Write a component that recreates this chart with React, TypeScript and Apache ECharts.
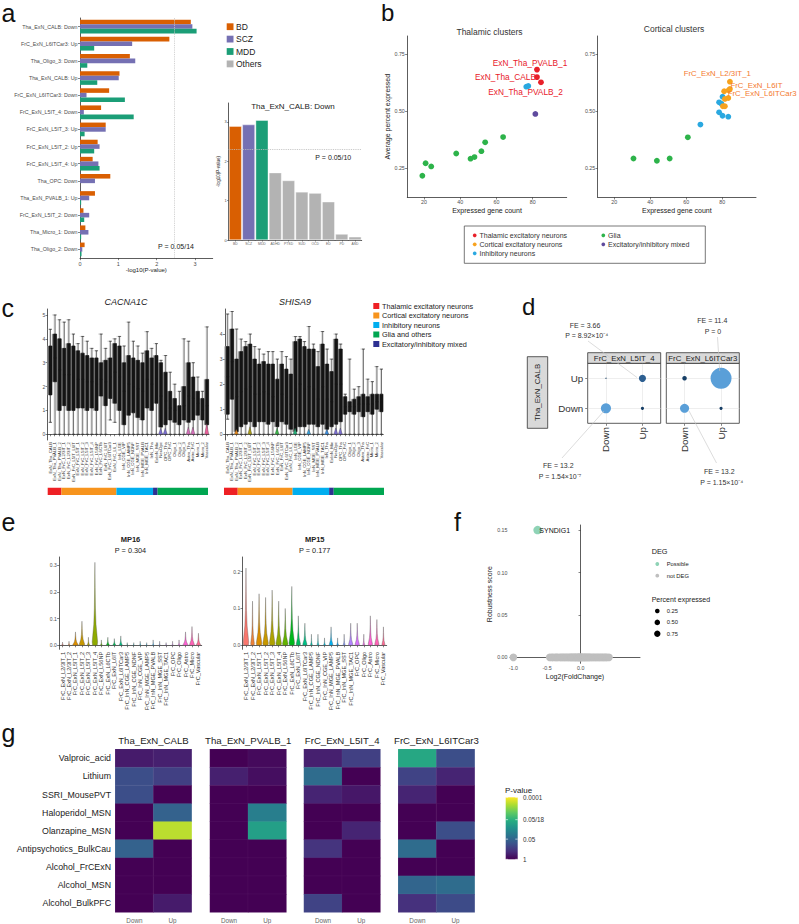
import React, { useEffect, useRef } from 'react';
import * as echarts from 'echarts';

const FF = '"Liberation Sans", Arial, Helvetica, sans-serif';

// ================= Panel a =================
const aCats = ['Tha_ExN_CALB: Down', 'FrC_ExN_L6ITCar3: Up', 'Tha_Oligo_3: Down', 'Tha_ExN_CALB: Up', 'FrC_ExN_L6ITCar3: Down', 'FrC_ExN_L5IT_4: Down', 'FrC_ExN_L5IT_3: Up', 'FrC_ExN_L5IT_2: Up', 'FrC_ExN_L5IT_4: Up', 'Tha_OPC: Down', 'Tha_ExN_PVALB_1: Up', 'FrC_ExN_L5IT_2: Down', 'Tha_Micro_1: Down', 'Tha_Oligo_2: Down'];
const aBD = [2.89, 2.33, 1.30, 1.03, 0.76, 0.55, 0.67, 0.46, 0.33, 0.79, 0.39, 0.09, 0.14, 0.12];
const aSCZ = [2.93, 1.36, 1.44, 1.01, 0.17, 0.10, 0.67, 0.51, 0.48, 0.39, 0.24, 0.24, 0.22, 0.06];
const aMDD = [3.04, 0.37, 0.19, 0.45, 1.17, 1.40, 0.12, 0.37, 0.51, 0.0, 0.03, 0.11, 0.03, 0.04];
const aThresholdP = 0.05 / 14;
const aThresholdLabel = 'P = 0.05/14';
const legendA = ['BD', 'SCZ', 'MDD', 'Others'];
const insetTitle = 'Tha_ExN_CALB: Down';
const insetCats = ['BD', 'SCZ', 'MDD', 'ADHD', 'PTSD', 'SUD', 'OCD', 'ED', 'PD', 'ASD'];
const insetVals = [2.89, 2.93, 3.04, 1.71, 1.51, 1.22, 1.19, 0.97, 0.15, 0.08];
const insetThresholdP = 0.05 / 10;
const insetThresholdLabel = 'P = 0.05/10';

// ================= Panel b =================
const thalExc = [[82.4, 0.682], [82.4, 0.649], [84.6, 0.626]];
const thalExcNames = ['ExN_Tha_PVALB_1', 'ExN_Tha_CALB', 'ExN_Tha_PVALB_2'];
const thalInh = [[76.5, 0.607], [77.6, 0.610]];
const thalMixed = [[81.5, 0.487]];
const thalGlia = [[19.1, 0.215], [20.9, 0.270], [24.0, 0.256], [37.8, 0.313], [45.7, 0.290], [47.9, 0.297], [51.7, 0.323], [53.8, 0.362], [63.7, 0.385]];
const cortGlia = [[30.7, 0.291], [43.7, 0.281], [50.8, 0.291], [60.9, 0.384]];
const cortInh = [[67.9, 0.440], [78.3, 0.494], [80.2, 0.479], [83.4, 0.475], [78.3, 0.538], [79.6, 0.532], [80.2, 0.563]];
const cortExc = [[84.3, 0.629], [84.3, 0.597], [83.6, 0.591], [81.1, 0.587], [81.5, 0.553], [83.4, 0.557], [80.4, 0.521], [81.5, 0.521]];
const cortExcNames = ['FrC_ExN_L2/3IT_1', 'FrC_ExN_L6IT', 'FrC_ExN_L6ITCar3', '', '', '', '', ''];
const bTitles = ['Thalamic clusters', 'Cortical clusters'];
const bLegend = ['Thalamic excitatory neurons', 'Cortical excitatory neurons', 'Inhibitory neurons', 'Glia', 'Excitatory/inhibitory mixed'];

// ================= Panel c =================
const cGenes = ['CACNA1C', 'SHISA9'];
const cCats = ['ExN_Tha_CALB', 'ExN_Tha_PVALB_1', 'ExN_Tha_PVALB_2', 'ExN_FrC_L2/3IT_1', 'ExN_FrC_L2/3IT_2', 'ExN_FrC_L5IT_L6IT', 'ExN_FrC_L5IT_1', 'ExN_FrC_L5IT_2', 'ExN_FrC_L5IT_3', 'ExN_FrC_L5IT_4', 'ExN_FrC_L56NP', 'ExN_FrC_L6CTb', 'ExN_FrC_L6IT', 'ExN_FrC_L6ITCar3', 'ExN_FrC_L6_1', 'InN_LGE', 'InN_CGE_VIP', 'InN_CGE_LAMP5', 'InN_CGE_NDNF', 'InN_MGE_SST', 'InN_MGE_PVALB', 'InN_MGE_TAC1', 'InN_Tha', 'ExInN_Mix', 'NeuOpc', 'OPC_Tha', 'OPC_FrC', 'Oligo_1', 'Oligo_2', 'Oligo_3', 'Astro_Tha', 'Astro_FrC', 'Micro_1', 'Micro_2', 'Vascular'];
const cGroupNames = ['Thalamic excitatory neurons', 'Cortical excitatory neurons', 'Inhibitory neurons', 'Glia and others', 'Excitatory/inhibitory mixed'];
const cGroupCounts = [3, 12, 8, 1, 11]; // red, orange, blue, navy, green (order along axis)
const cacnaBox = [[0.5, 1.65, 2.9, 3.7, 4.4], [0, 2.2, 3.2, 4.2, 5.0], [0, 1.0, 2.7, 4.0, 4.8], [0, 1.2, 2.5, 3.6, 4.7], [0, 1.0, 2.5, 3.8, 4.8], [0, 1.0, 2.4, 3.7, 4.2], [0, 1.1, 2.3, 3.5, 3.8], [0, 1.1, 2.3, 3.4, 4.1], [0, 1.0, 2.2, 3.3, 3.9], [0, 1.1, 2.2, 3.2, 3.6], [0, 1.0, 2.1, 3.2, 3.5], [0, 1.6, 2.3, 3.0, 4.2], [0, 1.2, 2.2, 3.1, 3.6], [0.6, 1.5, 2.4, 3.2, 3.9], [0.5, 1.3, 2.6, 3.8, 4.0], [0, 1.0, 2.4, 3.7, 4.1], [0, 0.4, 1.8, 3.0, 3.7], [0, 0.8, 2.1, 3.3, 4.7], [0, 0.9, 2.0, 3.2, 3.9], [0, 0.7, 1.9, 3.1, 3.7], [0, 0.6, 1.8, 3.0, 3.4], [0, 1.1, 2.3, 3.5, 4.3], [0, 1.0, 2.1, 3.2, 3.6], [0, 1.3, 2.3, 3.3, 3.8], [0, 0.3, 1.6, 3.0, 3.1], [0, 0.4, 1.4, 2.6, 3.3], [0, 0.6, 1.1, 1.8, 2.6], [0, 0.5, 1.0, 1.5, 2.1], [0, 0.4, 0.8, 1.2, 1.8], [0, 0.6, 1.2, 2.0, 4.0], [0, 0.5, 1.6, 3.0, 3.9], [0, 0.6, 1.5, 2.4, 3.0], [0, 0.8, 1.3, 1.8, 2.4], [0, 0.6, 1.0, 1.5, 1.8], [0, 0.4, 1.2, 2.3, 4.5]];
const shisaBox = [[0.6, 0.8, 2.3, 3.5, 4.8], [0, 1.4, 2.9, 4.2, 4.9], [0, 0.1, 1.5, 3.0, 4.2], [0, 0.3, 1.7, 3.3, 3.8], [0, 0.4, 1.8, 3.5, 3.7], [0, 0.5, 1.9, 3.6, 4.0], [0, 0.3, 1.6, 3.0, 3.5], [0, 0.5, 1.6, 2.8, 3.4], [0, 0.5, 1.7, 2.9, 3.2], [0, 0.4, 1.6, 2.8, 3.3], [0, 0.5, 1.5, 2.8, 3.3], [0, 0.3, 1.2, 2.2, 3.0], [0, 0.5, 1.6, 2.8, 3.3], [0, 0.4, 1.5, 2.6, 3.1], [0, 0.2, 1.2, 2.4, 3.0], [0, 0.1, 1.8, 3.7, 3.9], [0, 0.3, 2.0, 3.8, 3.9], [0, 0.3, 1.8, 3.5, 3.7], [0, 0.4, 1.9, 3.4, 4.3], [0, 0.4, 1.8, 3.4, 3.6], [0, 0.3, 1.4, 2.7, 3.3], [0, 0.4, 1.9, 3.6, 4.1], [0, 0.2, 1.4, 2.8, 3.4], [0, 0.3, 1.3, 2.5, 3.0], [0, 0.4, 2.0, 3.8, 4.0], [0, 0.5, 2.0, 3.4, 3.6], [0, 0.8, 1.1, 1.5, 1.6], [0, 0.9, 1.1, 1.3, 3.0], [0, 0.8, 1.1, 1.4, 1.8], [0, 0.9, 1.2, 1.5, 1.9], [0, 0.7, 1.2, 1.6, 3.4], [0, 0.9, 1.2, 1.5, 2.2], [0, 0.8, 1.2, 1.6, 2.1], [0, 1.0, 1.3, 1.6, 2.7], [0, 0.9, 1.3, 1.6, 2.6]];
// small coloured violin bases visible at y = 0: [category index, height]
const cacnaMini = [[24, 0.25], [25, 0.25], [30, 0.3], [31, 0.3], [34, 0.45]];
const shisaMini = [[2, 0.2], [5, 0.3], [11, 0.25], [15, 0.25], [18, 0.2], [22, 0.2], [24, 0.25], [25, 0.25]];

// ================= Panel d =================
const dLevels = ['Down', 'Up'];
const dPanels = ['FrC_ExN_L5IT_4', 'FrC_ExN_L6ITCar3'];
const dRowPanel = 'Tha_ExN_CALB';
// [column level index, row level index, overlapping genes]
const dOverlapL5IT4 = [[0, 0, 10], [1, 0, 1], [0, 1, 0], [1, 1, 5]];
const dOverlapL6ITCar3 = [[0, 0, 8], [1, 0, 1], [0, 1, 2], [1, 1, 43]];
const dAnnot = [['FE = 3.66', 'P = 8.92×10⁻⁴'], ['FE = 11.4', 'P = 0'], ['FE = 13.2', 'P = 1.54×10⁻⁷'], ['FE = 13.2', 'P = 1.15×10⁻⁴']];

// ================= Panel e =================
const eCats = ['FrC_ExN_L2/3IT_1', 'FrC_ExN_L2/3IT_2', 'FrC_ExN_L5IT_1', 'FrC_ExN_L5IT_2', 'FrC_ExN_L5IT_3', 'FrC_ExN_L5IT_4', 'FrC_ExN_L56NP', 'FrC_ExN_L6CTb', 'FrC_ExN_L6IT', 'FrC_ExN_L6ITCar3', 'FrC_InN_CGE_LAMP5', 'FrC_InN_CGE_NDNF', 'FrC_InN_CGE_VIP', 'FrC_InN_MGE_LAMP5', 'FrC_InN_MGE_PVALB', 'FrC_InN_MGE_SST', 'FrC_InN_MGE_TAC1', 'FrC_OPC', 'FrC_Oligo', 'FrC_Astro', 'FrC_Micro', 'FrC_Vascular'];
const eTitles = ['MP16', 'MP15'];
const ePvals = ['P = 0.304', 'P = 0.177'];
const mp16Top = [0.012, 0.015, 0.05, 0.09, 0.03, 0.31, 0.02, 0.03, 0.025, 0.035, 0.01, 0.01, 0.015, 0.01, 0.02, 0.015, 0.01, 0.015, 0.02, 0.05, 0.07, 0.045];
const mp16Width = [0.3, 0.3, 0.9, 0.9, 0.4, 0.9, 0.3, 0.5, 0.5, 0.5, 0.2, 0.2, 0.2, 0.2, 0.2, 0.2, 0.2, 0.2, 0.3, 0.8, 0.8, 0.7];
const mp15Top = [0.21, 0.12, 0.14, 0.13, 0.15, 0.12, 0.10, 0.16, 0.08, 0.06, 0.03, 0.03, 0.02, 0.05, 0.02, 0.03, 0.06, 0.06, 0.03, 0.08, 0.07, 0.05];
const mp15Width = [0.9, 0.6, 0.9, 0.9, 0.9, 0.9, 0.9, 0.9, 0.7, 0.7, 0.3, 0.3, 0.3, 0.6, 0.3, 0.3, 0.7, 0.7, 0.3, 0.7, 0.7, 0.5];

// ================= Panel f =================
const possibleDEG = [[-0.64, 0.150]];
const possibleNames = ['SYNDIG1'];
const notDEGfc = [-1.0, -0.46, -0.43, -0.41, -0.38, -0.36, -0.34, -0.31, -0.29, -0.27, -0.25, -0.23, -0.21, -0.19, -0.17, -0.15, -0.14, -0.12, -0.11, -0.09, -0.08, -0.07, -0.05, -0.04, -0.03, -0.02, -0.01, 0.0, 0.01, 0.02, 0.03, 0.05, 0.06, 0.07, 0.09, 0.1, 0.12, 0.13, 0.15, 0.17, 0.19, 0.21, 0.23, 0.25, 0.27, 0.29, 0.31, 0.33, 0.35, 0.37, 0.39, 0.42];
const pctLegend = ['0.25', '0.50', '0.75'];

// ================= Panel g =================
const drugs = ['Valproic_acid', 'Lithium', 'SSRI_MousePVT', 'Haloperidol_MSN', 'Olanzapine_MSN', 'Antipsychotics_BulkCau', 'Alcohol_FrCExN', 'Alcohol_MSN', 'Alcohol_BulkPFC'];
const gTitles = ['Tha_ExN_CALB', 'Tha_ExN_PVALB_1', 'FrC_ExN_L5IT_4', 'FrC_ExN_L6ITCar3'];
const gCols = ['Down', 'Up'];
// -log10(P) for [Down, Up]
const gCalb = [[0.3, 0.35], [0.95, 0.75], [0.95, 0], [0, 1.25], [0, 3.6], [1.25, 0], [0, 0], [0, 0], [0, 0.3]];
const gPvalb = [[0, 0.1], [0.35, 0.15], [0, 0], [0, 1.7], [0, 2.25], [0, 0], [0, 0], [0, 0], [0, 0]];
const gL5it4 = [[0.35, 0.75], [1.4, 0], [0.4, 0.25], [0, 0], [0, 0.4], [0.6, 0], [0, 0], [0, 0], [0.8, 0]];
const gL6it = [[2.4, 0.95], [0.8, 0.4], [0.4, 0], [0, 0], [0, 0.95], [1.4, 0], [0, 0], [1.3, 1.4], [0.55, 0.9]];
const cbBreaksP = [1, 0.05, 0.05 / 18, 0.0001];
const cbLabels = ['1', '0.05', '0.05/18', '0.0001'];

// ================= styles =================
const DIS_COL: any = { BD: '#D95F02', SCZ: '#7570B3', MDD: '#1B9E77', Others: '#B3B3B3' };
const B_RED = '#E8202A', B_ORANGE = '#F7A21E', B_BLUE = '#2AA8E0', B_GREEN = '#2DB34A', B_PURPLE = '#5F4B9E';
const B_LABEL_ORANGE = '#F47A2F';
const C_COL = { red: '#EE2024', orange: '#F7941D', blue: '#00AEEF', green: '#00A651', navy: '#2E3192' };
const VIRIDIS = ['#440154', '#472D7B', '#3B528B', '#2C728E', '#21908C', '#27AD81', '#5DC963', '#AADC32', '#FDE725'];

function hcl(h: number, c = 100, l = 65): string {
  const hr = (h * Math.PI) / 180;
  const u = c * Math.cos(hr), v = c * Math.sin(hr);
  const Xn = 95.047, Yn = 100, Zn = 108.883;
  const den = Xn + 15 * Yn + 3 * Zn;
  const un = (4 * Xn) / den, vn = (9 * Yn) / den;
  const Y = l > 8 ? Yn * Math.pow((l + 16) / 116, 3) : (Yn * l) / 903.3;
  const up = u / (13 * l) + un, vp = v / (13 * l) + vn;
  const X = (Y * 9 * up) / (4 * vp);
  const Z = (Y * (12 - 3 * up - 20 * vp)) / (4 * vp);
  const x = X / 100, y = Y / 100, z = Z / 100;
  const lin = [3.2404542 * x - 1.5371385 * y - 0.4985314 * z, -0.969266 * x + 1.8760108 * y + 0.041556 * z, 0.0556434 * x - 0.2040259 * y + 1.0572252 * z];
  return '#' + lin.map((ch) => {
    let s = ch <= 0.0031308 ? 12.92 * ch : 1.055 * Math.pow(ch, 1 / 2.4) - 0.055;
    s = Math.max(0, Math.min(1, s));
    return Math.round(s * 255).toString(16).padStart(2, '0');
  }).join('');
}

const T = (x: number, y: number, text: string, size: number, o: any = {}) => ({
  type: 'text', x, y, rotation: o.rot || 0, silent: true, z: 100,
  style: {
    text, fontSize: size, fontFamily: FF, fill: o.fill || '#222',
    textAlign: o.align || 'center', textVerticalAlign: o.va || 'middle',
    align: o.align || 'center', verticalAlign: o.va || 'middle',
    fontStyle: o.italic ? 'italic' : 'normal', fontWeight: o.bold ? 'bold' : 'normal',
  },
});
const R = (x: number, y: number, w: number, h: number, style: any) => ({ type: 'rect', silent: true, z: 90, shape: { x, y, width: w, height: h }, style });
const L = (x1: number, y1: number, x2: number, y2: number, stroke = '#C4C4C4', lw = 0.6) => ({ type: 'line', silent: true, z: 95, shape: { x1, y1, x2, y2 }, style: { stroke, lineWidth: lw } });
const Cc = (cx: number, cy: number, r: number, fill: string) => ({ type: 'circle', silent: true, z: 95, shape: { cx, cy, r }, style: { fill } });

function buildOption() {
  const grids: any[] = [];
  const xAxes: any[] = [];
  const yAxes: any[] = [];
  const series: any[] = [];
  const G: any[] = [];

  const addGrid = (left: number, top: number, width: number, height: number, extra: any = {}) => {
    grids.push({ left, top, width, height, show: false, containLabel: false, outerBoundsMode: 'none', ...extra });
    return grids.length - 1;
  };
  const axLine = (show = true) => ({ show, lineStyle: { color: '#333', width: 0.8 } });
  const valAxis = (gi: number, min: number, max: number, cv: number[], size: number, fmt: any, o: any = {}) => ({
    type: 'value', gridIndex: gi, min, max,
    splitLine: { show: false },
    axisLine: axLine(),
    axisTick: { show: true, length: o.tickLen || 2.2, lineStyle: { color: '#333', width: 0.6 }, customValues: cv },
    axisLabel: { show: true, fontSize: size, color: o.labelColor || '#4d4d4d', fontFamily: FF, margin: o.margin || 2.5, customValues: cv, formatter: fmt, hideOverlap: false },
    ...(o.name ? { name: o.name, nameLocation: 'middle', nameGap: o.nameGap, nameTextStyle: { fontSize: o.nameSize || 7, color: '#222', fontFamily: FF } } : {}),
  });
  const catAxis = (gi: number, data: string[], size: number, o: any = {}) => ({
    type: 'category', gridIndex: gi, data, boundaryGap: true, inverse: !!o.inverse,
    splitLine: { show: false },
    axisLine: axLine(o.line !== false),
    axisTick: { show: o.tick !== false, length: o.tickLen || 2, alignWithLabel: true, interval: 0, lineStyle: { color: '#333', width: 0.6 } },
    axisLabel: { show: o.label !== false, fontSize: size, color: o.labelColor || '#4d4d4d', fontFamily: FF, margin: o.margin || 2.5, interval: 0, rotate: o.rotate || 0, hideOverlap: false },
  });

  // ---------- a ----------
  const gA = addGrid(80, 18, 132.7, 240);
  xAxes.push(valAxis(gA, 0, 3.46, [0, 1, 2, 3], 5.5, (v: number) => String(v), { name: '-log10(P-value)', nameGap: 8, nameSize: 6 }));
  yAxes.push(catAxis(gA, aCats, 5.3, { inverse: true }));
  [['BD', aBD], ['SCZ', aSCZ], ['MDD', aMDD]].forEach(([nm, d]: any, k) => {
    series.push({
      type: 'bar', name: nm, xAxisIndex: gA, yAxisIndex: gA, data: d, barGap: '0%', barCategoryGap: '20%',
      itemStyle: { color: DIS_COL[nm] }, silent: true,
      ...(k === 2 ? { markLine: { silent: true, symbol: ['none', 'none'], label: { show: false }, lineStyle: { color: '#C8C8C8', type: 'dotted', width: 0.9 }, data: [{ xAxis: -Math.log10(aThresholdP) }] } } : {}),
    });
  });
  G.push(T(176, 246, aThresholdLabel, 7));
  legendA.forEach((nm, i) => {
    const y = 26.7 + i * 12.4;
    G.push(R(226.7, y - 3.4, 6.8, 6.8, { fill: DIS_COL[nm] }));
    G.push(T(236, y, nm, 8.5, { align: 'left' }));
  });

  // inset
  const gI = addGrid(228.7, 103, 133, 137);
  xAxes.push(catAxis(gI, insetCats, 3.4, { tickLen: 1.5, labelColor: '#666', margin: 2 }));
  yAxes.push(valAxis(gI, 0, 3.48, [0, 1, 2, 3], 4, (v: number) => String(v), { tickLen: 1.5, name: '-log10(P-value)', nameGap: 8.2, nameSize: 4.5, margin: 2 }));
  series.push({
    type: 'bar', xAxisIndex: gI, yAxisIndex: gI, barCategoryGap: '6%', silent: true,
    itemStyle: { borderColor: '#fff', borderWidth: 0.4 },
    data: insetVals.map((v, i) => ({ value: v, itemStyle: { color: DIS_COL[insetCats[i]] || DIS_COL.Others } })),
    markLine: { silent: true, symbol: ['none', 'none'], label: { show: false }, lineStyle: { color: '#BDBDBD', type: 'dotted', width: 0.9 }, data: [{ yAxis: -Math.log10(insetThresholdP) }] },
  });
  G.push(T(293, 106, insetTitle, 8));
  G.push(T(333.3, 157, insetThresholdLabel, 7));

  // ---------- b ----------
  const gBT = addGrid(407.3, 36, 159.4, 161.3);
  const gBC = addGrid(597.7, 36, 158.3, 161.3);
  [gBT, gBC].forEach((gi, k) => {
    xAxes.push(valAxis(gi, 10.8, 98.8, [20, 40, 60, 80], 5.3, (v: number) => String(v), { name: 'Expressed gene count', nameGap: 9.6, nameSize: 7 }));
    yAxes.push(valAxis(gi, 0.12, 0.83, [0.25, 0.5, 0.75], 5.3, (v: number) => v.toFixed(2), k === 0 ? { name: 'Average percent expressed', nameGap: 16.5, nameSize: 7 } : {}));
  });
  const sc = (gi: number, data: any[], color: string) => ({ type: 'scatter', xAxisIndex: gi, yAxisIndex: gi, data, symbolSize: 5.8, itemStyle: { color, opacity: 1 }, silent: true });
  series.push(sc(gBT, thalGlia, B_GREEN), sc(gBT, thalInh, B_BLUE), sc(gBT, thalMixed, B_PURPLE));
  const thalOff = [[-7, -7], [-31.5, 0], [-15.5, 9.7]];
  series.push({
    ...sc(gBT, thalExc.map((v, i) => ({ value: v, name: thalExcNames[i], label: { show: true, position: 'inside', offset: thalOff[i], formatter: '{b}', color: B_RED, fontSize: 8.3, fontFamily: FF, textBorderWidth: 0 } })), B_RED),
  });
  series.push(sc(gBC, cortGlia, B_GREEN), sc(gBC, cortInh, B_BLUE));
  const cortOff = [[-12.7, -8], [26.5, -3], [33.5, 3.7]];
  series.push({
    ...sc(gBC, cortExc.map((v, i) => ({ value: v, name: cortExcNames[i], label: { show: !!cortExcNames[i], position: 'inside', offset: cortOff[i] || [0, 0], formatter: '{b}', color: B_LABEL_ORANGE, fontSize: 7.8, fontFamily: FF, textBorderWidth: 0 } })), B_ORANGE),
  });
  G.push(T(489.5, 32, bTitles[0], 8.5, { fill: '#333' }));
  G.push(T(674, 29, bTitles[1], 8.5, { fill: '#333' }));
  G.push(R(464.3, 226, 241, 37.3, { fill: 'none', stroke: '#555', lineWidth: 0.8 }));
  const bLegPos = [[474.7, 235.3, B_RED], [474.7, 244.3, B_ORANGE], [474.7, 253.3, B_BLUE], [603.3, 235.3, B_GREEN], [603.3, 244.3, B_PURPLE]];
  bLegend.forEach((nm, i) => {
    const [x, y, col]: any = bLegPos[i];
    G.push(Cc(x, y, 1.9, col));
    G.push(T(x + 4.8, y, nm, 7, { align: 'left', fill: '#333' }));
  });

  // ---------- c ----------
  const gCL = addGrid(47.7, 309, 161.3, 131);
  const gCR = addGrid(225, 309, 158.3, 131);
  xAxes.push(catAxis(gCL, cCats, 4.3, { rotate: 90, labelColor: '#333', margin: 2 }));
  yAxes.push(valAxis(gCL, -0.24, 5.25, [0, 1, 2, 3, 4, 5], 5, (v: number) => String(v)));
  xAxes.push(catAxis(gCR, cCats, 4.3, { rotate: 90, labelColor: '#333', margin: 2 }));
  yAxes.push(valAxis(gCR, -0.23, 5.0, [0, 1, 2, 3, 4], 5, (v: number) => String(v)));
  const miniColor = (gi: number, idx: number) => {
    const pal: any = { 2: '#E58A1F', 5: '#A89A1A', 11: '#3BB54A', 15: '#27B07A', 18: '#3AA0DA', 22: '#3C8EE0', 24: '#7B6FD0', 25: '#7B6FD0', 30: '#D36FB8', 31: '#D36FB8', 34: '#E8609A' };
    return pal[idx] || '#888';
  };
  [[gCL, cacnaBox, cacnaMini], [gCR, shisaBox, shisaMini]].forEach(([gi, d, mini]: any) => {
    series.push({ type: 'boxplot', xAxisIndex: gi, yAxisIndex: gi, data: d, boxWidth: [4.2, 4.4], silent: true, z: 1, itemStyle: { color: '#8a8a8a', borderColor: '#9a9a9a', borderWidth: 0.4 } });
    series.push({ type: 'boxplot', xAxisIndex: gi, yAxisIndex: gi, data: d, boxWidth: [3, 3.4], silent: true, z: 2, itemStyle: { color: '#141414', borderColor: '#141414', borderWidth: 0.6 } });
    series.push({
      type: 'custom', xAxisIndex: gi, yAxisIndex: gi, silent: true, z: 3, data: mini,
      renderItem: (params: any, api: any) => {
        const i = api.value(0), h = api.value(1);
        const b = api.coord([i, 0]);
        const t = api.coord([i, h]);
        const hw = api.size([1, 0])[0] * 0.45;
        return { type: 'polygon', shape: { points: [[b[0] - hw, b[1]], [b[0], t[1]], [b[0] + hw, b[1]]] }, style: { fill: miniColor(gi, i), stroke: '#333', lineWidth: 0.3 } };
      },
    });
  });
  const cGroupColors = [C_COL.red, C_COL.orange, C_COL.blue, C_COL.navy, C_COL.green];
  const cTotal = cGroupCounts.reduce((s, n) => s + n, 0);
  [addGrid(47.7, 487.7, 160.3, 7.3), addGrid(224, 487.7, 160, 7.3)].forEach((gi) => {
    xAxes.push({ type: 'value', gridIndex: gi, min: 0, max: cTotal, show: false });
    yAxes.push({ type: 'category', gridIndex: gi, data: ['groups'], show: false });
    cGroupCounts.forEach((n, k) => {
      series.push({ type: 'bar', xAxisIndex: gi, yAxisIndex: gi, stack: 'grp' + gi, data: [n], barWidth: '100%', silent: true, itemStyle: { color: cGroupColors[k] } });
    });
  });
  G.push(T(126, 301.5, cGenes[0], 9, { italic: true }));
  G.push(T(295, 301.5, cGenes[1], 9, { italic: true }));
  const cLegColors = [C_COL.red, C_COL.orange, C_COL.blue, C_COL.green, C_COL.navy];
  cGroupNames.forEach((nm, i) => {
    const y = 306 + i * 9.5;
    G.push(R(373.3, y - 3, 6, 6, { fill: cLegColors[i] }));
    G.push(T(382, y, nm, 7.3, { align: 'left', fill: '#222' }));
  });

  // ---------- d ----------
  const dBorder = { show: true, borderColor: '#333', borderWidth: 0.8, backgroundColor: '#fff' };
  const gDL = addGrid(587.7, 363.3, 73, 60, dBorder);
  const gDR = addGrid(666.3, 363.3, 73, 60, dBorder);
  const bubbleColor = (n: number) => (n >= 8 ? '#5A9FD8' : n >= 4 ? '#2D5F91' : '#173F66');
  [[gDL, dOverlapL5IT4], [gDR, dOverlapL6ITCar3]].forEach(([gi, d]: any, k) => {
    xAxes.push(catAxis(gi, dLevels, 9.8, { line: false, rotate: 90, labelColor: '#333', margin: 3.7, tickLen: 2.5 }));
    yAxes.push(catAxis(gi, dLevels, 9.8, { line: false, label: k === 0, tick: k === 0, labelColor: '#333', margin: 4.4, tickLen: 2.5 }));
    series.push({
      type: 'scatter', xAxisIndex: gi, yAxisIndex: gi, data: [[0, 0]], symbolSize: 0, silent: true, z: 1,
      markLine: { silent: true, symbol: ['none', 'none'], label: { show: false }, lineStyle: { color: '#E2E2E2', width: 0.6, type: 'solid' }, data: [{ xAxis: 0 }, { xAxis: 1 }, { yAxis: 0 }, { yAxis: 1 }] },
    });
    series.push({
      type: 'scatter', xAxisIndex: gi, yAxisIndex: gi, data: d, silent: true, z: 5,
      symbolSize: (v: number[]) => (v[2] > 0 ? 3.2 * Math.sqrt(v[2]) : 1.2),
      itemStyle: { color: (p: any) => bubbleColor(p.value[2]), opacity: 1 },
    });
  });
  G.push(R(587.7, 352.7, 73, 10.6, { fill: '#D9D9D9', stroke: '#333', lineWidth: 0.8 }));
  G.push(R(666.3, 352.7, 73, 10.6, { fill: '#D9D9D9', stroke: '#333', lineWidth: 0.8 }));
  G.push(T(624.2, 358.2, dPanels[0], 7.8));
  G.push(T(702.8, 358.2, dPanels[1], 7.8));
  G.push(R(527.3, 356.7, 20.4, 71.6, { fill: '#D9D9D9', stroke: '#333', lineWidth: 0.8 }));
  G.push(T(537.7, 392.5, dRowPanel, 7.8, { rot: Math.PI / 2 }));
  const dAnnPos = [[585, 325, 586.7, 335.5], [712.3, 320.7, 713, 331.2], [558.3, 465.7, 560, 476.2], [719.3, 471.7, 721.7, 482.2]];
  dAnnot.forEach(([a, b], i) => {
    const [x1, y1, x2, y2] = dAnnPos[i];
    G.push(T(x1, y1, a, 7, { fill: '#333' }));
    G.push(T(x2, y2, b, 7, { fill: '#333' }));
  });
  G.push(L(588, 341, 637, 377.5));
  G.push(L(717.5, 337, 719.7, 371));
  G.push(L(562, 458, 604, 411));
  G.push(L(716.5, 463, 689, 411));

  // ---------- e ----------
  const eColors = eCats.map((_, i) => hcl(15 + (i * 360) / eCats.length));
  const VPROF = [[0, 0.85], [0.04, 1], [0.12, 0.78], [0.25, 0.42], [0.45, 0.2], [0.7, 0.09], [1, 0]];
  const violin = (gi: number, tops: number[], widths: number[]) => ({
    type: 'custom', xAxisIndex: gi, yAxisIndex: gi, silent: true,
    data: tops.map((t, i) => [i, t, widths[i]]),
    renderItem: (params: any, api: any) => {
      const i = api.value(0), top = api.value(1), w = api.value(2);
      const b = api.coord([i, 0]);
      const t = api.coord([i, top]);
      const band = api.size([1, 0])[0];
      const hw = band * 0.47 * w;
      const h = b[1] - t[1];
      const left = VPROF.map(([f, ww]) => [b[0] - hw * ww, b[1] - h * f]);
      const right = VPROF.slice().reverse().map(([f, ww]) => [b[0] + hw * ww, b[1] - h * f]);
      return { type: 'polygon', shape: { points: left.concat(right) }, style: { fill: eColors[i], stroke: '#555', lineWidth: 0.35 } };
    },
  });
  const gEL = addGrid(59.3, 557, 142.4, 92.3);
  const gER = addGrid(242.7, 557, 144, 92.3);
  xAxes.push(catAxis(gEL, eCats, 5.6, { rotate: 90, labelColor: '#333', margin: 2.5 }));
  yAxes.push(valAxis(gEL, -0.015, 0.33, [0, 0.1, 0.2, 0.3], 5, (v: number) => v.toFixed(1)));
  xAxes.push(catAxis(gER, eCats, 5.6, { rotate: 90, labelColor: '#333', margin: 2.5 }));
  yAxes.push(valAxis(gER, -0.011, 0.24, [0, 0.1, 0.2], 5, (v: number) => v.toFixed(1)));
  series.push(violin(gEL, mp16Top, mp16Width));
  series.push(violin(gER, mp15Top, mp15Width));
  G.push(T(130.5, 539, eTitles[0], 7.5, { bold: true }));
  G.push(T(130.5, 550.5, ePvals[0], 7.3));
  G.push(T(314.7, 539, eTitles[1], 7.5, { bold: true }));
  G.push(T(314.7, 550.5, ePvals[1], 7.3));

  // ---------- f ----------
  const gF = addGrid(510, 525, 130, 138.3);
  xAxes.push(valAxis(gF, -1.05, 0.88, [-1, -0.5, 0], 5.3, (v: number) => v.toFixed(1), { name: 'Log2(FoldChange)', nameGap: 9.6, nameSize: 7 }));
  yAxes.push(valAxis(gF, -0.007, 0.156, [0, 0.05, 0.1, 0.15], 5.3, (v: number) => v.toFixed(2), { name: 'Robustness score', nameGap: 16.5, nameSize: 7 }));
  series.push({ type: 'scatter', xAxisIndex: gF, yAxisIndex: gF, silent: true, data: notDEGfc.map((x) => [x, 0]), symbolSize: 7.6, itemStyle: { color: '#BFBFBF', opacity: 1 } });
  series.push({
    type: 'scatter', xAxisIndex: gF, yAxisIndex: gF, silent: true, symbolSize: 8.5, itemStyle: { color: '#8FD3B6', opacity: 1 },
    data: possibleDEG.map((v, i) => ({ value: v, name: possibleNames[i] })),
    label: { show: true, position: 'right', distance: -2.5, formatter: '{b}', fontSize: 7, color: '#111', fontFamily: FF },
  });
  G.push(T(651.7, 551.7, 'DEG', 7.3, { align: 'left' }));
  G.push(Cc(657.3, 564, 1.9, '#8FD3B6'));
  G.push(T(666.7, 564, 'Possible', 5.8, { align: 'left' }));
  G.push(Cc(657.3, 575.7, 1.9, '#BFBFBF'));
  G.push(T(666.7, 575.7, 'not DEG', 5.8, { align: 'left' }));
  G.push(T(651.7, 599, 'Percent expressed', 7, { align: 'left' }));
  pctLegend.forEach((t, i) => {
    const y = 611 + i * 11.4;
    G.push(Cc(657.3, y, 2.3 + i * 0.45, '#000'));
    G.push(T(666.7, y, t, 5.8, { align: 'left' }));
  });

  // ---------- g ----------
  const gLefts = [115.3, 210, 304, 398.3];
  const gData = [gCalb, gPvalb, gL5it4, gL6it];
  const heatIdx: number[] = [];
  gLefts.forEach((l, k) => {
    const gi = addGrid(l, 749.3, 76.3, 163);
    xAxes.push({ type: 'category', gridIndex: gi, data: gCols, axisLine: { show: false }, axisTick: { show: false }, splitLine: { show: false }, axisLabel: { fontSize: 6.3, color: '#666', margin: 5, fontFamily: FF } });
    yAxes.push({ type: 'category', gridIndex: gi, data: drugs, inverse: true, axisLine: { show: false }, axisTick: { show: false }, splitLine: { show: false }, axisLabel: { show: k === 0, fontSize: 8.8, color: '#222', margin: 4.3, fontFamily: FF, interval: 0 } });
    const data: any[] = [];
    gData[k].forEach((row, r) => { data.push([0, r, row[0]], [1, r, row[1]]); });
    heatIdx.push(series.length);
    series.push({ type: 'heatmap', xAxisIndex: gi, yAxisIndex: gi, data, silent: true, itemStyle: { borderColor: 'rgba(255,255,255,0.08)', borderWidth: 0.5 } });
    G.push(T(l + 38.15, 740, gTitles[k], 9.6));
  });
  const cbY = (v: number) => 859.3 - v * 15.5;
  G.push(T(505, 790, 'P-value', 8, { align: 'left' }));
  G.push(R(505.7, cbY(4), 12, cbY(0) - cbY(4), {
    fill: new echarts.graphic.LinearGradient(0, 0, 0, 1, VIRIDIS.slice().reverse().map((c, i) => ({ offset: i / (VIRIDIS.length - 1), color: c }))),
  }));
  cbBreaksP.forEach((p, i) => {
    const y = cbY(-Math.log10(p));
    G.push(L(505.7, y, 508.1, y, '#fff', 0.6));
    G.push(L(515.3, y, 517.7, y, '#fff', 0.6));
    G.push(T(523, y, cbLabels[i], 6.3, { align: 'left', fill: '#333' }));
  });

  // ---------- letters ----------
  G.push(T(1.5, 12.5, 'a', 25, { align: 'left', fill: '#111' }));
  G.push(T(381, 12.5, 'b', 24, { align: 'left', fill: '#111' }));
  G.push(T(1.5, 308, 'c', 25, { align: 'left', fill: '#111' }));
  G.push(T(522, 306, 'd', 24, { align: 'left', fill: '#111' }));
  G.push(T(1.5, 522, 'e', 25, { align: 'left', fill: '#111' }));
  G.push(T(454, 522, 'f', 25, { align: 'left', fill: '#111' }));
  G.push(T(1.5, 733, 'g', 25, { align: 'left', fill: '#111' }));

  return {
    animation: false,
    backgroundColor: '#fff',
    textStyle: { fontFamily: FF },
    grid: grids,
    xAxis: xAxes,
    yAxis: yAxes,
    visualMap: { show: false, type: 'continuous', min: 0, max: 4, dimension: 2, seriesIndex: heatIdx, inRange: { color: VIRIDIS } },
    series,
    graphic: { elements: G },
  };
}

export default function App() {
  const ref = useRef<HTMLDivElement>(null);
  useEffect(() => {
    if (!ref.current) return;
    const chart = echarts.init(ref.current, undefined, { renderer: 'svg', width: 799, height: 924 });
    chart.setOption(buildOption() as any);
    return () => chart.dispose();
  }, []);
  return <div ref={ref} style={{ position: 'fixed', left: 0, top: 0, width: 799, height: 924, background: '#fff' }} />;
}
